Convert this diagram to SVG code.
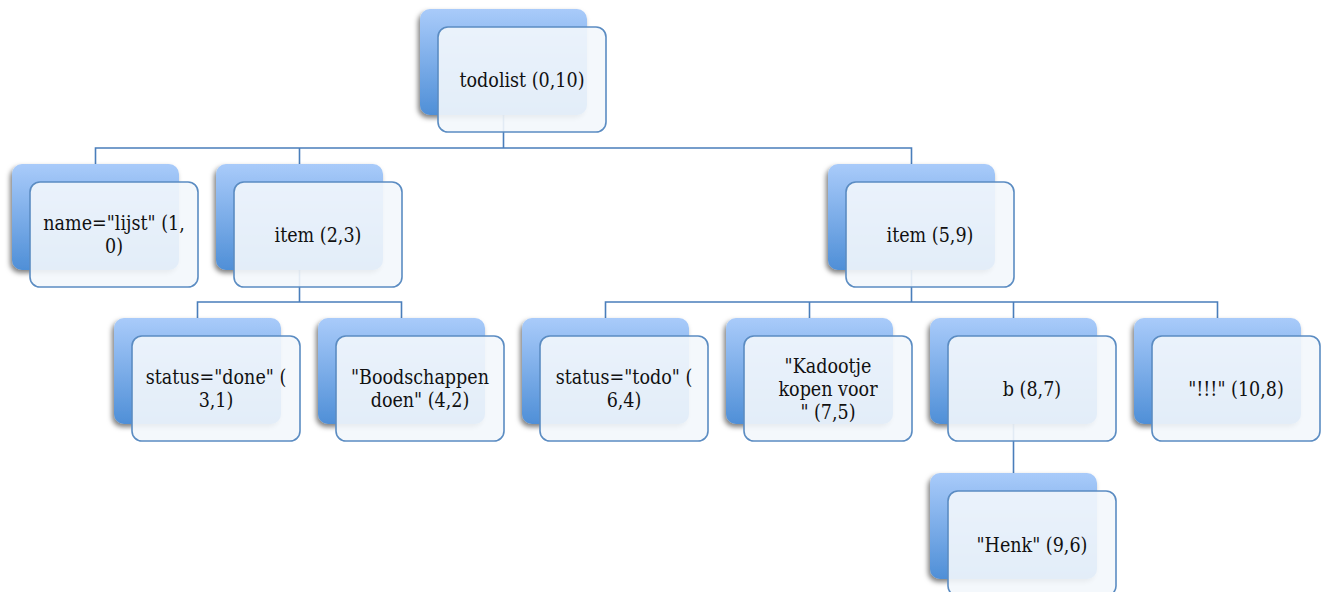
<svg xmlns="http://www.w3.org/2000/svg" width="1325" height="592" viewBox="0 0 1325 592">
<defs>
<linearGradient id="g" x1="0" y1="0" x2="0" y2="1">
<stop offset="0" stop-color="#a9cbfa"/>
<stop offset="1" stop-color="#4f8fd7"/>
</linearGradient>
<filter id="sh" x="-20%" y="-20%" width="140%" height="150%">
<feDropShadow dx="-2" dy="3" stdDeviation="2.5" flood-color="#000" flood-opacity="0.5"/>
</filter>
</defs>
<style>
.bk{fill:url(#g);filter:url(#sh)}
.fr{fill:#f3f7fc;fill-opacity:0.9;stroke:#5b8cc2;stroke-width:1.6}
.t{font-family:"DejaVu Serif Condensed","DejaVu Serif","Liberation Serif",serif;font-stretch:condensed;font-size:19.5px;fill:#111;text-anchor:middle}
.c{fill:none;stroke:#4a7ebb;stroke-width:1.6}
</style>
<rect width="1325" height="592" fill="#fff"/>
<g id="connectors">
<path class="c" d="M503.5 115V148M95.5 164V148H911.5V164M299.5 148V164"/>
<path class="c" d="M299.5 270V302M197.5 318V302H401.5V318"/>
<path class="c" d="M911.5 270V302M605.5 318V302H1217.5V318M809.5 302V318M1013.5 302V318"/>
<path class="c" d="M1013.5 424V473"/>
</g>
<g id="n0"><rect class="bk" x="420" y="9" width="167" height="106" rx="10"/><rect class="fr" x="438" y="27" width="168" height="105" rx="10"/><text class="t" x="522" y="87">todolist (0,10)</text></g>
<g id="n1"><rect class="bk" x="12" y="164" width="167" height="106" rx="10"/><rect class="fr" x="30" y="182" width="168" height="105" rx="10"/><text class="t" x="114" y="230">name="lijst" (1,<tspan x="114" dy="23">0)</tspan></text></g>
<g id="n2"><rect class="bk" x="216" y="164" width="167" height="106" rx="10"/><rect class="fr" x="234" y="182" width="168" height="105" rx="10"/><text class="t" x="318" y="242">item (2,3)</text></g>
<g id="n3"><rect class="bk" x="828" y="164" width="167" height="106" rx="10"/><rect class="fr" x="846" y="182" width="168" height="105" rx="10"/><text class="t" x="930" y="242">item (5,9)</text></g>
<g id="n4"><rect class="bk" x="114" y="318" width="167" height="106" rx="10"/><rect class="fr" x="132" y="336" width="168" height="105" rx="10"/><text class="t" x="216" y="384">status="done" (<tspan x="216" dy="23">3,1)</tspan></text></g>
<g id="n5"><rect class="bk" x="318" y="318" width="167" height="106" rx="10"/><rect class="fr" x="336" y="336" width="168" height="105" rx="10"/><text class="t" x="420" y="384">"Boodschappen<tspan x="420" dy="23">doen" (4,2)</tspan></text></g>
<g id="n6"><rect class="bk" x="522" y="318" width="167" height="106" rx="10"/><rect class="fr" x="540" y="336" width="168" height="105" rx="10"/><text class="t" x="624" y="384">status="todo" (<tspan x="624" dy="23">6,4)</tspan></text></g>
<g id="n7"><rect class="bk" x="726" y="318" width="167" height="106" rx="10"/><rect class="fr" x="744" y="336" width="168" height="105" rx="10"/><text class="t" x="828" y="373">"Kadootje<tspan x="828" dy="23">kopen voor</tspan><tspan x="828" dy="23">" (7,5)</tspan></text></g>
<g id="n8"><rect class="bk" x="930" y="318" width="167" height="106" rx="10"/><rect class="fr" x="948" y="336" width="168" height="105" rx="10"/><text class="t" x="1032" y="396">b (8,7)</text></g>
<g id="n9"><rect class="bk" x="1134" y="318" width="167" height="106" rx="10"/><rect class="fr" x="1152" y="336" width="168" height="105" rx="10"/><text class="t" x="1236" y="396">"!!!" (10,8)</text></g>
<g id="n10"><rect class="bk" x="930" y="473" width="167" height="106" rx="10"/><rect class="fr" x="948" y="491" width="168" height="105" rx="10"/><text class="t" x="1032" y="552">"Henk" (9,6)</text></g>
</svg>
